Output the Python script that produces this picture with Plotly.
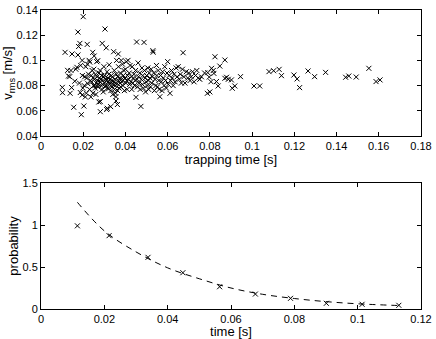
import plotly.graph_objects as go

# trapping time [s] and rms velocity [m/s] of each trapped particle
trap_time = [
    0.0101, 0.0102, 0.0114, 0.0126, 0.0130, 0.0136, 0.0138, 0.0145, 0.0147, 0.0142,
    0.0155, 0.0160, 0.0165, 0.0170, 0.0175, 0.0175, 0.0178, 0.0184, 0.0182, 0.0186,
    0.0191, 0.0188, 0.0195, 0.0196, 0.0198, 0.0195,
    0.0200, 0.0203, 0.0205, 0.0207, 0.0210, 0.0212, 0.0215, 0.0216, 0.0219, 0.0220,
    0.0222, 0.0225, 0.0228, 0.0230, 0.0231, 0.0233, 0.0236, 0.0238, 0.0240, 0.0242,
    0.0245, 0.0246, 0.0248, 0.0249,
    0.0250, 0.0252, 0.0253, 0.0255, 0.0257, 0.0258, 0.0260, 0.0262, 0.0264, 0.0266,
    0.0268, 0.0269, 0.0270, 0.0272, 0.0274, 0.0275, 0.0277, 0.0279, 0.0280, 0.0281,
    0.0281, 0.0283, 0.0285, 0.0287, 0.0289, 0.0290, 0.0291, 0.0293, 0.0295, 0.0297,
    0.0298,
    0.0300, 0.0301, 0.0303, 0.0304, 0.0306, 0.0307, 0.0309, 0.0310, 0.0311, 0.0313,
    0.0314, 0.0315, 0.0317, 0.0318, 0.0320, 0.0321, 0.0323, 0.0325, 0.0327, 0.0329,
    0.0330, 0.0331, 0.0333, 0.0335, 0.0337, 0.0339, 0.0340, 0.0342, 0.0344, 0.0345,
    0.0347, 0.0348,
    0.0350, 0.0352, 0.0353, 0.0355, 0.0355, 0.0357, 0.0358, 0.0360, 0.0362, 0.0363,
    0.0364, 0.0366, 0.0367, 0.0368, 0.0370, 0.0372, 0.0374, 0.0376, 0.0378, 0.0380,
    0.0382, 0.0384, 0.0386, 0.0388, 0.0390, 0.0393, 0.0395, 0.0398,
    0.0400, 0.0402, 0.0404, 0.0406, 0.0408, 0.0410, 0.0412, 0.0415, 0.0418, 0.0420,
    0.0422, 0.0425, 0.0428, 0.0430, 0.0432, 0.0435, 0.0438, 0.0440, 0.0443, 0.0446,
    0.0448,
    0.0450, 0.0453, 0.0455, 0.0457, 0.0460, 0.0462, 0.0465, 0.0468, 0.0470, 0.0473,
    0.0475, 0.0478, 0.0480, 0.0482, 0.0485, 0.0488, 0.0490, 0.0493, 0.0495, 0.0498,
    0.0500, 0.0503, 0.0506, 0.0508, 0.0510, 0.0513, 0.0516, 0.0519, 0.0522, 0.0525,
    0.0528, 0.0530, 0.0531, 0.0534, 0.0537, 0.0540, 0.0544, 0.0547, 0.0549,
    0.0552, 0.0555, 0.0558, 0.0560, 0.0563, 0.0566, 0.0570, 0.0573, 0.0576, 0.0580,
    0.0583, 0.0586, 0.0590, 0.0594, 0.0597,
    0.0600, 0.0603, 0.0607, 0.0611, 0.0614, 0.0618, 0.0622, 0.0626, 0.0630, 0.0635,
    0.0640, 0.0645,
    0.0650, 0.0655, 0.0660, 0.0665, 0.0670, 0.0673, 0.0677, 0.0682, 0.0688, 0.0695,
    0.0700, 0.0706, 0.0712, 0.0718, 0.0725, 0.0732, 0.0738, 0.0745, 0.0752, 0.0760,
    0.0775, 0.0788, 0.0790, 0.0797, 0.0800, 0.0805,
    0.0808, 0.0816, 0.0819, 0.0824, 0.0831, 0.0839, 0.0847, 0.0871, 0.0871, 0.0879,
    0.0887, 0.0902, 0.0906, 0.0918, 0.0945, 0.1009, 0.1036, 0.1080, 0.1102, 0.1128,
    0.1139, 0.1198, 0.1213, 0.1225, 0.1265, 0.1296, 0.1348, 0.1443, 0.1458, 0.1493,
    0.1553, 0.1587, 0.1606,
]
v_rms = [
    0.0786, 0.0744, 0.1064, 0.0921, 0.0876, 0.0871, 0.0739, 0.0784, 0.1051, 0.0920,
    0.0628, 0.0835, 0.0930, 0.0945, 0.1225, 0.1043, 0.1110, 0.1135, 0.0820, 0.0745,
    0.0569, 0.0960, 0.1000, 0.0880, 0.0780, 0.0725,
    0.1347, 0.0638, 0.0800, 0.0870, 0.0710, 0.0950, 0.0740, 0.0860, 0.1127, 0.0970,
    0.0815, 0.0890, 0.1000, 0.0770, 0.0987, 0.0840, 0.0710, 0.0880, 0.0830, 0.0920,
    0.1064, 0.0740, 0.0860, 0.0800,
    0.0930, 0.1035, 0.0850, 0.0800, 0.0780, 0.0890, 0.0730, 0.0820, 0.0990, 0.0870,
    0.0840, 0.0998, 0.0790, 0.0810, 0.0670, 0.0900, 0.0860, 0.0830, 0.0920, 0.0593,
    0.0673, 0.0850, 0.0800, 0.0880, 0.0770, 0.1135, 0.0810, 0.0840, 0.0750, 0.0870,
    0.0950,
    0.0880, 0.0820, 0.1249, 0.0790, 0.0850, 0.0800, 0.1100, 0.0840, 0.0610, 0.0910,
    0.0620, 0.0780, 0.0860, 0.0830, 0.0775, 0.0890, 0.0965, 0.0810, 0.0850, 0.0820,
    0.0633, 0.0760, 0.0880, 0.0840, 0.0790, 0.0870, 0.0730, 0.0810, 0.1069, 0.0830,
    0.0920, 0.0770,
    0.0850, 0.0800, 0.0740, 0.0678, 0.0712, 0.0890, 0.1000, 0.0815, 0.0650, 0.0760,
    0.0870, 0.1051, 0.0950, 0.0840, 0.0780, 0.0860, 0.0820, 0.0900, 0.0790, 0.1000,
    0.0850, 0.0830, 0.0970, 0.0800, 0.0880, 0.0920, 0.0760, 0.0860,
    0.0930, 0.0820, 0.0990, 0.0840, 0.0770, 0.0880, 0.1000, 0.0850, 0.0900, 0.0810,
    0.0960, 0.0830, 0.0870, 0.0770, 0.0950, 0.0820, 0.0860, 0.0890, 0.0800, 0.0840,
    0.0920,
    0.0707, 0.1146, 0.0850, 0.0790, 0.0980, 0.0870, 0.0820, 0.0900, 0.0770, 0.0635,
    0.0850, 0.0940, 0.0810, 0.0880, 0.0780, 0.1143, 0.0920, 0.0860, 0.0750, 0.0830,
    0.0880, 0.0800, 0.0940, 0.0840, 0.0770, 0.0900, 0.0860, 0.0790, 0.0930, 0.0820,
    0.0870, 0.1077, 0.1065, 0.0900, 0.0760, 0.0850, 0.0800, 0.0960, 0.0880,
    0.0790, 0.0920, 0.0840, 0.0770, 0.0712, 0.0880, 0.0830, 0.0760, 0.0910, 0.0860,
    0.0800, 0.0950, 0.0840, 0.0780, 0.0900,
    0.0990, 0.0810, 0.0880, 0.0739, 0.0840, 0.0920, 0.0860, 0.0800, 0.0890, 0.0830,
    0.0940, 0.0870,
    0.0950, 0.0850, 0.0890, 0.0820, 0.0930, 0.1061, 0.0870, 0.0820, 0.0910, 0.0860,
    0.0900, 0.0840, 0.0870, 0.0910, 0.0830, 0.0880, 0.0920, 0.0860, 0.0850, 0.0870,
    0.0900, 0.0739, 0.0903, 0.0868, 0.0750, 0.0831,
    0.0937, 0.0920, 0.0897, 0.1029, 0.0832, 0.0797, 0.0955, 0.0858, 0.1003, 0.0866,
    0.0850, 0.0845, 0.0779, 0.0797, 0.0871, 0.0797, 0.0797, 0.0911, 0.0918, 0.0929,
    0.0879, 0.0884, 0.0853, 0.0784, 0.0916, 0.0871, 0.0905, 0.0866, 0.0876, 0.0868,
    0.0937, 0.0832, 0.0845,
]

# trapping time histogram (probability) and the exponential fit drawn through it
hist_t = [0.0115, 0.0215, 0.0338, 0.0448, 0.0564, 0.0677, 0.0788, 0.0901, 0.1014, 0.1130]
hist_p = [0.99, 0.873, 0.615, 0.432, 0.265, 0.178, 0.127, 0.068, 0.056, 0.044]
fit_t = [0.0115, 0.02, 0.03, 0.04, 0.05, 0.06, 0.07, 0.08, 0.09, 0.10, 0.1125]
fit_p = [1.27, 0.93, 0.68, 0.49, 0.36, 0.25, 0.175, 0.125, 0.088, 0.062, 0.042]

top_xticks = [0, 0.02, 0.04, 0.06, 0.08, 0.1, 0.12, 0.14, 0.16, 0.18]
top_yticks = [0.04, 0.06, 0.08, 0.1, 0.12, 0.14]
bot_xticks = [0, 0.02, 0.04, 0.06, 0.08, 0.1, 0.12]
bot_yticks = [0, 0.5, 1, 1.5]

font = dict(family="Liberation Sans, Arial, sans-serif", size=11, color="black")

fig = go.Figure()
fig.add_trace(go.Scatter(
    x=trap_time, y=v_rms, mode="markers", xaxis="x", yaxis="y",
    marker=dict(symbol="x-thin", size=5, line=dict(width=1, color="black")),
    showlegend=False,
))
fig.add_trace(go.Scatter(
    x=fit_t, y=fit_p, mode="lines", xaxis="x2", yaxis="y2", line_shape="spline",
    line=dict(color="black", width=1, dash="6px,5px"), showlegend=False,
))
fig.add_trace(go.Scatter(
    x=hist_t, y=hist_p, mode="markers", xaxis="x2", yaxis="y2",
    marker=dict(symbol="x-thin", size=5, line=dict(width=1, color="black")),
    showlegend=False,
))

axis = dict(showline=True, linecolor="black", linewidth=1, mirror="ticks",
            ticks="inside", ticklen=4, tickcolor="black", showgrid=False,
            zeroline=False, automargin=False, tickfont=font)

fig.update_layout(
    width=436, height=339,
    margin=dict(l=41, r=15, t=10, b=30),
    paper_bgcolor="white", plot_bgcolor="white",
    font=font,
    xaxis=dict(axis, domain=[0, 1], anchor="y", range=[0, 0.18],
               tickvals=top_xticks, ticktext=[f"{v:g}" for v in top_xticks],
               title=dict(text="trapping time [s]", standoff=0)),
    yaxis=dict(axis, domain=[0.5786, 1], anchor="x", range=[0.04, 0.14],
               tickvals=top_yticks, ticktext=[f"{v:g}" for v in top_yticks],
               title=dict(text="v<sub>rms</sub> [m/s]", standoff=0)),
    xaxis2=dict(axis, domain=[0, 1], anchor="y2", range=[0, 0.12],
                tickvals=bot_xticks, ticktext=[f"{v:g}" for v in bot_xticks],
                title=dict(text="time [s]", standoff=0)),
    yaxis2=dict(axis, domain=[0, 0.4214], anchor="x2", range=[0, 1.5],
                tickvals=bot_yticks, ticktext=[f"{v:g}" for v in bot_yticks],
                title=dict(text="probability", standoff=0)),
)

# the page's default body margin would shift the whole figure by 8 px
fig.write_html("out.html", config={"displayModeBar": False},
               post_script="document.body.style.margin='0';")
